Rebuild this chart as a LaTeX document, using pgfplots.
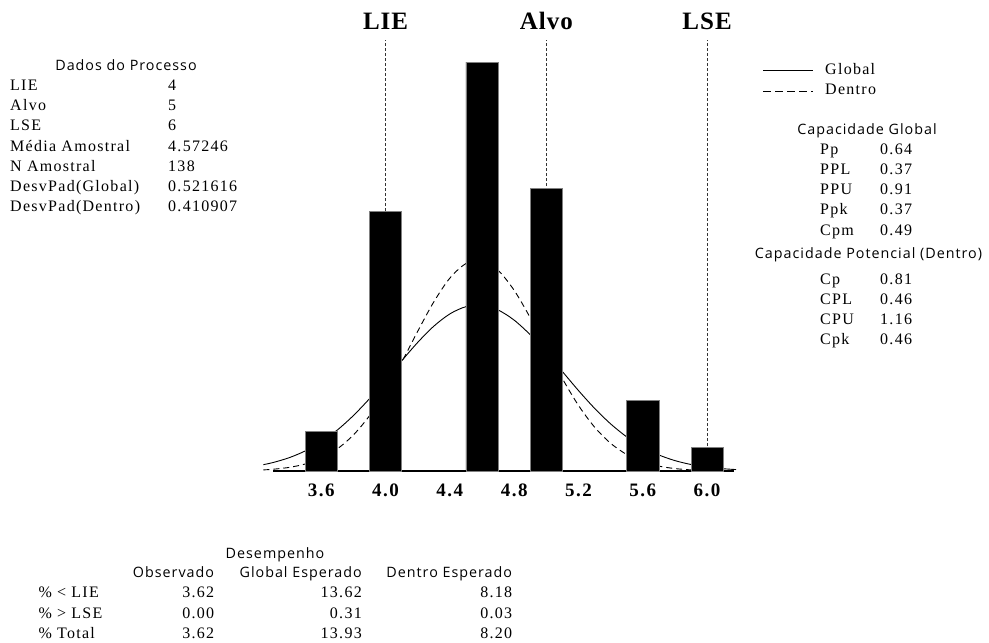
\documentclass[border=0pt]{standalone}
\usepackage{fontspec}
\setmainfont{Liberation Serif}[LetterSpace=8]
\newfontfamily\ssf{Open Sans}[LetterSpace=7]
\usepackage{pgfplots}
\pgfplotsset{compat=1.18}
\tikzset{
  sv/.style={font=\fontsize{16}{17}\selectfont, inner sep=0pt},
  ss/.style={font=\ssf\fontsize{14.3}{16}\selectfont, inner sep=0pt},
  big/.style={font=\bfseries\fontsize{25}{25}\selectfont\addfontfeatures{LetterSpace=4}, anchor=base, inner sep=0pt, yshift=10.7pt},
}
\begin{document}
\begin{tikzpicture}
\path[use as bounding box] (0,0) rectangle (989pt,-643pt);
\begin{axis}[
  at={(273pt,-471pt)}, anchor=south west,
  scale only axis, width=460.6pt, height=431pt,
  xmin=3.30, xmax=6.165, ymin=0, ymax=54.83,
  axis x line=bottom, axis y line=none,
  x axis line style={-, line width=1.1pt},
  xtick={3.6,4.0,4.4,4.8,5.2,5.6,6.0},
  major tick length=0pt,
  xticklabel style={font=\bfseries\fontsize{19}{19}\selectfont\addfontfeatures{LetterSpace=8}, anchor=base, yshift=-25pt,
    /pgf/number format/.cd, fixed, fixed zerofill, precision=1, assume math mode=true},
  clip=false,
]
\draw[line width=0.7pt, dash pattern=on 3pt off 2pt, black!80] (axis cs:4,0) -- (axis cs:4,54.83);
\draw[line width=0.7pt, dash pattern=on 3pt off 2pt, black!80] (axis cs:5,0) -- (axis cs:5,54.83);
\draw[line width=0.7pt, dash pattern=on 3pt off 2pt, black!80] (axis cs:6,0) -- (axis cs:6,54.83);
\node[big] at (axis cs:4,54.83) {LIE};
\node[big] at (axis cs:5,54.83) {Alvo};
\node[big] at (axis cs:6,54.83) {LSE};
% Global (overall) normal curve
\addplot[smooth, black, line width=0.9pt] coordinates {
(3.24,0.808)(3.3,1.077)(3.4,1.688)(3.5,2.550)(3.6,3.713)(3.7,5.212)(3.8,7.051)(3.9,9.195)
(4.0,11.559)(4.1,14.006)(4.2,16.358)(4.3,18.418)(4.4,19.986)(4.5,20.906)(4.6,21.080)(4.7,20.487)
(4.8,19.193)(4.9,17.332)(5.0,15.086)(5.1,12.658)(5.2,10.237)(5.3,7.981)(5.4,5.996)(5.5,4.343)
(5.6,3.032)(5.7,2.041)(5.8,1.324)(5.9,0.827)(6.0,0.499)(6.1,0.290)(6.18,0.183)};
% Within normal curve
\addplot[smooth, black, line width=0.9pt, dash pattern=on 6pt off 4pt] coordinates {
(3.24,0.140)(3.3,0.222)(3.4,0.457)(3.5,0.889)(3.6,1.629)(3.7,2.813)(3.8,4.578)(3.9,7.023)
(4.0,10.153)(4.1,13.836)(4.2,17.769)(4.3,21.508)(4.4,24.537)(4.5,26.383)(4.6,26.736)(4.7,25.536)
(4.8,22.987)(4.9,19.503)(5.0,15.595)(5.1,11.753)(5.2,8.348)(5.3,5.589)(5.4,3.527)(5.5,2.097)
(5.6,1.175)(5.7,0.621)(5.8,0.309)(5.9,0.145)(6.0,0.064)(6.1,0.027)(6.18,0.013)};
% Histogram
\addplot[ybar, bar width=0.2, fill=black, draw=black!50, line width=0.6pt] coordinates {
(3.6,5)(4.0,33)(4.6,52)(5.0,36)(5.6,9)(6.0,3)};
\end{axis}
% Left panel
\node[ss, anchor=base] at (126pt,-70pt) {Dados do Processo};
\node[sv, anchor=base west] at (10pt,-90pt) {LIE};
\node[sv, anchor=base west] at (10pt,-110.3pt) {Alvo};
\node[sv, anchor=base west] at (10pt,-130.6pt) {LSE};
\node[sv, anchor=base west] at (10pt,-151pt) {Média Amostral};
\node[sv, anchor=base west] at (10pt,-171.2pt) {N Amostral};
\node[sv, anchor=base west] at (10pt,-191.5pt) {DesvPad(Global)};
\node[sv, anchor=base west] at (10pt,-211.8pt) {DesvPad(Dentro)};
\node[sv, anchor=base west] at (168pt,-90pt) {4};
\node[sv, anchor=base west] at (168pt,-110.3pt) {5};
\node[sv, anchor=base west] at (168pt,-130.6pt) {6};
\node[sv, anchor=base west] at (168pt,-151pt) {4.57246};
\node[sv, anchor=base west] at (168pt,-171.2pt) {138};
\node[sv, anchor=base west] at (168pt,-191.5pt) {0.521616};
\node[sv, anchor=base west] at (168pt,-211.8pt) {0.410907};
% Legend
\draw[black, line width=0.9pt] (763pt,-70pt) -- (813pt,-70pt);
\draw[black, line width=0.9pt, dash pattern=on 8pt off 4pt] (763pt,-91pt) -- (813pt,-91pt);
\node[sv, anchor=base west] at (825pt,-74pt) {Global};
\node[sv, anchor=base west] at (825pt,-94pt) {Dentro};
% Right panel
\node[ss, anchor=base] at (867pt,-134pt) {Capacidade Global};
\node[sv, anchor=base west] at (820pt,-154.5pt) {Pp};
\node[sv, anchor=base west] at (820pt,-174.5pt) {PPL};
\node[sv, anchor=base west] at (820pt,-194.7pt) {PPU};
\node[sv, anchor=base west] at (820pt,-214.7pt) {Ppk};
\node[sv, anchor=base west] at (820pt,-235pt) {Cpm};
\node[sv, anchor=base west] at (880pt,-154.5pt) {0.64};
\node[sv, anchor=base west] at (880pt,-174.5pt) {0.37};
\node[sv, anchor=base west] at (880pt,-194.7pt) {0.91};
\node[sv, anchor=base west] at (880pt,-214.7pt) {0.37};
\node[sv, anchor=base west] at (880pt,-235pt) {0.49};
\node[ss, anchor=base] at (868.5pt,-258.3pt) {Capacidade Potencial (Dentro)};
\node[sv, anchor=base west] at (820pt,-284.3pt) {Cp};
\node[sv, anchor=base west] at (820pt,-304.3pt) {CPL};
\node[sv, anchor=base west] at (820pt,-324pt) {CPU};
\node[sv, anchor=base west] at (820pt,-344.3pt) {Cpk};
\node[sv, anchor=base west] at (880pt,-284.3pt) {0.81};
\node[sv, anchor=base west] at (880pt,-304.3pt) {0.46};
\node[sv, anchor=base west] at (880pt,-324pt) {1.16};
\node[sv, anchor=base west] at (880pt,-344.3pt) {0.46};
% Bottom table
\node[ss, anchor=base] at (275pt,-558pt) {Desempenho};
\node[ss, anchor=base east] at (214.3pt,-577.3pt) {Observado};
\node[ss, anchor=base east] at (362pt,-577.3pt) {Global Esperado};
\node[ss, anchor=base east] at (512.3pt,-577.3pt) {Dentro Esperado};
\node[sv, anchor=base west] at (38.3pt,-597.3pt) {\% < LIE};
\node[sv, anchor=base west] at (38.3pt,-618.5pt) {\% > LSE};
\node[sv, anchor=base west] at (38.3pt,-638.5pt) {\% Total};
\node[sv, anchor=base east] at (214.3pt,-597.3pt) {3.62};
\node[sv, anchor=base east] at (214.3pt,-618.5pt) {0.00};
\node[sv, anchor=base east] at (214.3pt,-638.5pt) {3.62};
\node[sv, anchor=base east] at (362pt,-597.3pt) {13.62};
\node[sv, anchor=base east] at (362pt,-618.5pt) {0.31};
\node[sv, anchor=base east] at (362pt,-638.5pt) {13.93};
\node[sv, anchor=base east] at (512.3pt,-597.3pt) {8.18};
\node[sv, anchor=base east] at (512.3pt,-618.5pt) {0.03};
\node[sv, anchor=base east] at (512.3pt,-638.5pt) {8.20};
\end{tikzpicture}
\end{document}
